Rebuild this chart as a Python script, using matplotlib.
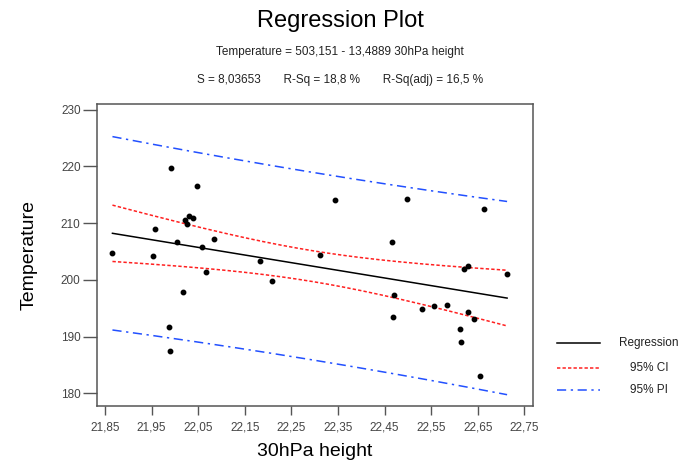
import numpy as np
import matplotlib
matplotlib.use("Agg")
import matplotlib.pyplot as plt
from matplotlib.lines import Line2D

plt.rcParams['font.family'] = ['Liberation Sans', 'DejaVu Sans']

# Observations: 30 hPa geopotential height vs temperature
height = [21.866, 21.954, 21.957, 21.987, 21.989, 21.992, 22.004, 22.018,
          22.022, 22.027, 22.030, 22.038, 22.048, 22.059, 22.067, 22.085,
          22.183, 22.209, 22.311, 22.344, 22.465, 22.469, 22.471, 22.499,
          22.530, 22.556, 22.585, 22.613, 22.615, 22.621, 22.630, 22.630,
          22.641, 22.655, 22.663, 22.713]
temperature = [204.8, 204.15, 209.0, 191.6, 187.5, 219.7, 206.7, 197.8,
               210.5, 209.8, 211.3, 210.9, 216.6, 205.85, 201.4, 207.15,
               203.4, 199.8, 204.3, 214.1, 206.7, 193.5, 197.3, 214.2,
               194.9, 195.3, 195.5, 191.3, 189.05, 201.9, 202.5, 194.3,
               193.1, 183.05, 212.4, 201.1]

# Fitted model summary
intercept = 503.151
slope = -13.4889
s_err = 8.03653
r_sq = 18.8
r_sq_adj = 16.5
t_crit = 2.03

xticks = [21.85, 21.95, 22.05, 22.15, 22.25, 22.35, 22.45, 22.55, 22.65, 22.75]
yticks = [180, 190, 200, 210, 220, 230]

x = np.asarray(height)
n = len(x)
xbar = x.mean()
sxx = ((x - xbar) ** 2).sum()
xs = np.linspace(x.min(), x.max(), 200)
fit = intercept + slope * xs
se_mean = s_err * np.sqrt(1.0 / n + (xs - xbar) ** 2 / sxx)
se_pred = s_err * np.sqrt(1.0 + 1.0 / n + (xs - xbar) ** 2 / sxx)

fig = plt.figure(figsize=(6.8, 4.62), dpi=100)
ax = fig.add_axes([0.1431, 0.1219, 0.6403, 0.6523])

ci_color = '#ff2020'
pi_color = '#2250ff'
ci_style = (0, (2.2, 1.4))
pi_style = (0, (6, 3, 1.5, 3))

ax.plot(xs, fit, color='black', lw=1.1)
ax.plot(xs, fit + t_crit * se_mean, color=ci_color, lw=1.1, linestyle=ci_style)
ax.plot(xs, fit - t_crit * se_mean, color=ci_color, lw=1.1, linestyle=ci_style)
ax.plot(xs, fit + t_crit * se_pred, color=pi_color, lw=1.1, linestyle=pi_style)
ax.plot(xs, fit - t_crit * se_pred, color=pi_color, lw=1.1, linestyle=pi_style)
ax.plot(height, temperature, 'o', color='black', ms=3.2, mec='black')

ax.set_xlim(21.8335, 22.768)
ax.set_ylim(177.8, 230.95)
ax.set_xticks(xticks)
ax.set_xticklabels([f"{v:.2f}".replace('.', ',') for v in xticks])
ax.set_yticks(yticks)
ax.set_yticklabels([str(v) for v in yticks])
ax.tick_params(axis='x', direction='out', length=6.5, width=1.0, color='#555555',
               labelcolor='#444444', labelsize=8.5, pad=5)
ax.tick_params(axis='y', direction='out', length=10, width=1.0, color='#555555',
               labelcolor='#444444', labelsize=8.5, pad=2)
for sp in ax.spines.values():
    sp.set_color('#555555')
    sp.set_linewidth(1.1)

ax.set_xlabel('30hPa height', fontsize=14, labelpad=7)
ax.set_ylabel('Temperature', fontsize=14, labelpad=17)

fig.text(0.5, 1 - 21 / 462, 'Regression Plot', ha='center', va='center', fontsize=17)
fig.text(0.5, 1 - 52 / 462, 'Temperature = 503,151 - 13,4889 30hPa height',
         ha='center', va='center', fontsize=8.5, color='#222222')
stats = (f"S = {s_err:.5f}".replace('.', ',') + "       "
         + f"R-Sq = {r_sq:.1f} %".replace('.', ',') + "       "
         + f"R-Sq(adj) = {r_sq_adj:.1f} %".replace('.', ','))
fig.text(0.5, 1 - 80 / 462, stats, ha='center', va='center', fontsize=8.5, color='#222222')

# Legend drawn beside the axes
entries = [('Regression', 'black', '-'), ('95% CI', ci_color, ci_style), ('95% PI', pi_color, pi_style)]
rows_y = [342.7, 368.3, 390.0]
for (label, col, ls), yp in zip(entries, rows_y):
    yf = 1 - yp / 462
    fig.add_artist(Line2D([557 / 680, 600 / 680], [yf, yf], transform=fig.transFigure,
                          color=col, lw=1.1, linestyle=ls))
    fig.text(649 / 680, yf, label, ha='center', va='center', fontsize=8.5, color='#222222')

fig.savefig('out.png', dpi=100)
